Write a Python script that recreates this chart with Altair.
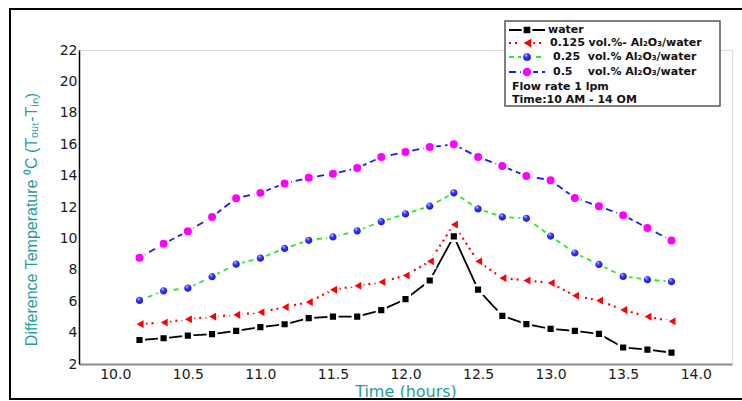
import altair as alt
import pandas as pd

# ---------------- data ----------------
times = [10.167, 10.333, 10.5, 10.667, 10.833, 11.0, 11.167, 11.333, 11.5, 11.667,
         11.833, 12.0, 12.167, 12.333, 12.5, 12.667, 12.833, 13.0, 13.167, 13.333,
         13.5, 13.667, 13.833]
water = [3.53, 3.64, 3.81, 3.90, 4.11, 4.35, 4.53, 4.92, 5.02, 5.02, 5.43, 6.13,
         7.32, 10.13, 6.74, 5.07, 4.54, 4.24, 4.11, 3.92, 3.05, 2.92, 2.72]
al_0125 = [4.54, 4.64, 4.85, 5.02, 5.13, 5.30, 5.62, 5.94, 6.73, 6.98, 7.22, 7.64,
           8.54, 10.88, 8.54, 7.47, 7.32, 7.16, 6.35, 6.04, 5.45, 5.02, 4.72]
al_025 = [6.05, 6.66, 6.83, 7.56, 8.36, 8.74, 9.36, 9.88, 10.09, 10.48, 11.07, 11.56,
          12.05, 12.90, 11.88, 11.37, 11.28, 10.15, 9.07, 8.34, 7.58, 7.37, 7.25]
al_05 = [8.76, 9.66, 10.45, 11.37, 12.56, 12.90, 13.50, 13.86, 14.12, 14.48, 15.18, 15.50,
         15.82, 15.99, 15.18, 14.61, 13.97, 13.71, 12.58, 12.05, 11.48, 10.67, 9.86]

x_ticks = [10.0, 10.5, 11.0, 11.5, 12.0, 12.5, 13.0, 13.5, 14.0]
y_ticks = [2, 4, 6, 8, 10, 12, 14, 16, 18, 20, 22]

legend_labels = [
    "water",
    "0.125 vol.%- Al\u2082O\u2083/water",
    "0.25\u00a0\u00a0vol.% Al\u2082O\u2083/water",
    "0.5\u00a0\u00a0\u00a0\u00a0vol.% Al\u2082O\u2083/water",
]
note_lines = ["Flow rate 1 lpm", "Time:10 AM - 14 OM"]

TEAL = "#1f9c9c"
W, H = 653, 314

blue_ball = alt.RadialGradient(
    gradient="radial",
    stops=[alt.GradientStop(offset=0, color="#dfe6ff"),
           alt.GradientStop(offset=0.3, color="#3a3aff"),
           alt.GradientStop(offset=1, color="#0000b8")],
    x1=0.38, y1=0.3, r1=0, x2=0.5, y2=0.5, r2=0.6,
)

series = [
    dict(vals=water, line="#000000", dash=[1, 0], lw=1.8, shape="square", fill="#000000", size=75),
    dict(vals=al_0125, line="#ff0000", dash=[2, 4], lw=2.2, shape="triangle-left", fill="#ff0000", size=150),
    dict(vals=al_025, line="#22ee22", dash=[5, 4], lw=1.8, shape="circle", fill=blue_ball, size=95),
    dict(vals=al_05, line="#1a1aff", dash=[7, 4], lw=1.8, shape="circle", fill="#ff00ff", size=110),
]

x_enc = alt.X(
    "t:Q",
    scale=alt.Scale(domain=[9.75, 14.25], nice=False, zero=False),
    axis=alt.Axis(values=x_ticks, format=".1f", title="Time (hours)", ticks=False, grid=False,
                  domainColor="#8a8a8a", domainWidth=2,
                  labelFont="DejaVu Sans", labelFontSize=14, labelColor="#1a1a1a", labelPadding=3,
                  titleFont="DejaVu Sans", titleFontSize=16, titleColor=TEAL, titleFontWeight="normal",
                  titleX=W / 2, titleY=27, titleBaseline="middle", titleAlign="center"),
)
y_enc = alt.Y(
    "v:Q",
    scale=alt.Scale(domain=[2, 22], nice=False, zero=False),
    axis=alt.Axis(values=y_ticks, format="d",
                  title="Difference Temperature \u2070C (T\u2092\u1d64\u209c-T\u1d62\u2099)",
                  ticks=False, grid=False, domainColor="#000000", domainWidth=1.5,
                  labelFont="DejaVu Sans", labelFontSize=14, labelColor="#1a1a1a", labelPadding=2,
                  titleFont="Liberation Sans", titleFontSize=16, titleColor=TEAL, titleFontWeight="normal",
                  titleX=-40, titleY=169, titleAngle=270, titleBaseline="bottom", titleAlign="center"),
)

layers = []
one = pd.DataFrame({"a": [0]})

# outer frame
layers.append(
    alt.Chart(one).mark_rect(fill=None, stroke="#000000", strokeWidth=2).encode(
        x=alt.value(-69), x2=alt.value(680), y=alt.value(-41), y2=alt.value(349))
)

for s in series:
    df = pd.DataFrame({"t": times, "v": s["vals"]})
    base = alt.Chart(df)
    layers.append(base.mark_line(color=s["line"], strokeDash=s["dash"], strokeWidth=s["lw"]).encode(x=x_enc, y=y_enc))
for s in series:
    df = pd.DataFrame({"t": times, "v": s["vals"]})
    base = alt.Chart(df)
    layers.append(base.mark_point(shape=s["shape"], fill=s["fill"], filled=True, opacity=1,
                                  stroke="white", strokeWidth=2.5, size=s["size"]).encode(x=x_enc, y=y_enc))

# legend box
layers.append(
    alt.Chart(one).mark_rect(fill="white", stroke="#555555", strokeWidth=1.5).encode(
        x=alt.value(426), x2=alt.value(641), y=alt.value(-29), y2=alt.value(56))
)
rows_y = [-20, -7, 7, 22]
text_x = [469, 471, 474, 474]
for s, label, yy, tx in zip(series, legend_labels, rows_y, text_x):
    layers.append(alt.Chart(one).mark_rule(color=s["line"], strokeDash=s["dash"], strokeWidth=s["lw"]).encode(
        x=alt.value(430), x2=alt.value(466), y=alt.value(yy)))
    layers.append(alt.Chart(one).mark_point(shape=s["shape"], fill=s["fill"], filled=True, opacity=1,
                                            stroke="white", strokeWidth=2, size=s["size"]).encode(
        x=alt.value(448), y=alt.value(yy)))
    layers.append(alt.Chart(one).mark_text(text=label, font="DejaVu Sans", fontWeight="bold", fontSize=11,
                                           align="left", baseline="middle", color="#111111").encode(
        x=alt.value(tx), y=alt.value(yy)))
for line, yy in zip(note_lines, [37, 50]):
    layers.append(alt.Chart(one).mark_text(text=line, font="DejaVu Sans", fontWeight="bold", fontSize=11,
                                           align="left", baseline="middle", color="#111111").encode(
        x=alt.value(433), y=alt.value(yy)))

chart = alt.layer(*layers).properties(
    width=W, height=H,
    autosize=alt.AutoSizeParams(type="none"),
    padding={"left": 79, "top": 50, "right": 10, "bottom": 37},
).configure_view(stroke=None).configure(background="white")

chart.save("out.html", embed_options={"renderer": "svg", "actions": False})
